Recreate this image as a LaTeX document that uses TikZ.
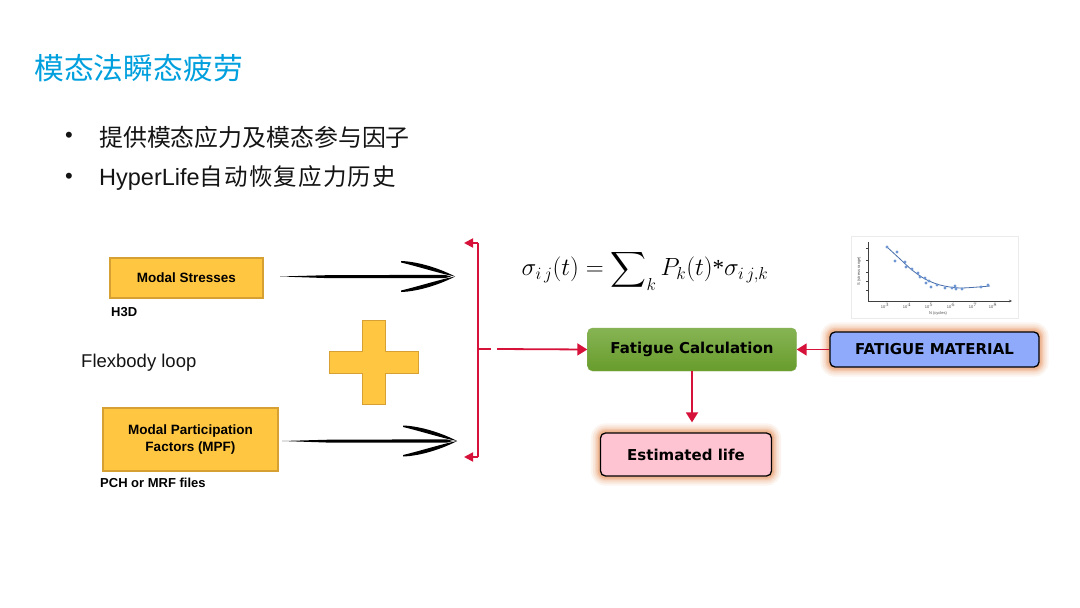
\documentclass[tikz,border=0pt]{standalone}
\usepackage{amsmath}
\usepackage{fontspec}
\setmainfont{Liberation Sans}
\newfontfamily\cjk{Noto Sans CJK SC}
\newfontfamily\dvs{DejaVu Sans}
\newfontfamily\tnr{Liberation Serif}
\usetikzlibrary{arrows.meta}
\pgfdeclarelayer{background}
\pgfsetlayers{background,main}
\definecolor{titleblue}{RGB}{0,160,222}
\definecolor{boxyellow}{RGB}{255,198,66}
\definecolor{boxborder}{RGB}{214,160,50}
\definecolor{redline}{RGB}{214,18,58}
\definecolor{fmblue}{RGB}{143,170,250}
\definecolor{elpink}{RGB}{255,196,210}
\definecolor{glowc}{RGB}{226,125,60}
\definecolor{greentop}{RGB}{134,180,84}
\definecolor{greenbot}{RGB}{104,156,44}
\definecolor{curveblue}{RGB}{70,110,170}
\definecolor{dotblue}{RGB}{110,150,210}
\definecolor{textdark}{RGB}{20,20,20}
\tikzset{
  plain/.style={inner sep=0pt, text=textdark},
  ybox/.style={draw=boxborder, line width=1.2pt, fill=boxyellow, inner sep=0pt, align=center,
    font=\bfseries\fontsize{13.5}{17}\selectfont},
  lbl/.style={inner sep=0pt, anchor=west, font=\bfseries\fontsize{13}{13}\selectfont},
  flowbox/.style={rounded corners=5pt, inner sep=0pt, font=\dvs\bfseries\fontsize{15}{15}\selectfont},
  redl/.style={draw=redline, line width=1.8pt},
  redarrow/.style={draw=redline, line width=1.8pt, -{Triangle[length=10pt,width=12pt]}},
  brush/.pic={
    \fill (-175,0) -- (-125,-1.4) -- (-10,-1.6) -- (-4,0) -- (-10,1.6) -- (-125,1.7) -- cycle;
    \fill (-54,-15.5) .. controls (-37,-15) and (-15,-8) .. (0,0) .. controls (-17,-3.5) and (-37,-10) .. (-54,-14) -- cycle;
    \fill (-54,15.5) .. controls (-37,15) and (-15,8) .. (0,0) .. controls (-17,3.5) and (-37,10) .. (-54,14) -- cycle;
  },
  tinytxt/.style={inner sep=0pt, font=\fontsize{4}{4}\selectfont, text=black!70}
}
\newcommand{\glowaround}[1]{%
  \begin{pgfonlayer}{background}
  \foreach \w/\o in {18/0.08,14/0.1,10/0.13,7/0.17,4/0.25}{%
    \draw[glowc, line width=\w pt, opacity=\o, rounded corners=6pt] (#1.south west) rectangle (#1.north east);}
  \end{pgfonlayer}}
\begin{document}
\begin{tikzpicture}[x=1pt,y=-1pt]
\begin{pgfonlayer}{background}
\fill[white] (0,0) rectangle (1080,608);
\end{pgfonlayer}
\useasboundingbox (0,0) rectangle (1080,608);

% title and bullets
\node[inner sep=0pt, anchor=west, text=titleblue, font=\cjk\fontsize{29.8}{30}\selectfont] (title) at (34,68) {模态法瞬态疲劳};
\node[plain, font=\fontsize{22}{22}\selectfont] (d1) at (69,137) {•};
\node[plain, font=\fontsize{22}{22}\selectfont] (d2) at (69,178) {•};
\node[plain, anchor=west, font=\cjk\fontsize{23.9}{24}\selectfont] (b1) at (99,137) {提供模态应力及模态参与因子};
\node[plain, anchor=west] (b2) at (99,178) {\fontsize{23.5}{24}\selectfont HyperLife{\cjk\addfontfeature{LetterSpace=5}自动恢复应力历史}};

% left column
\node[ybox, minimum width=153pt, minimum height=40pt] (ms) at (186.5,278) {Modal Stresses};
\node[lbl] (h3d) at (111,312) {H3D};
\node[plain, anchor=west, font=\fontsize{18.5}{18.5}\selectfont] (flex) at (81,363) {Flexbody loop};
\node[ybox, minimum width=175pt, minimum height=63pt] (mpf) at (190.5,439.5) {Modal Participation\\Factors (MPF)};
\node[lbl] (pch) at (100,483) {PCH or MRF files};

% plus sign
\filldraw[fill=boxyellow, draw=boxborder, line width=1pt]
  (362,320) -- (385,320) -- (385,351) -- (418,351) -- (418,373) -- (385,373) -- (385,404)
  -- (362,404) -- (362,373) -- (329,373) -- (329,351) -- (362,351) -- cycle;

% brush arrows
\coordinate (t1) at (455,276.5);
\coordinate (t2) at (457,441);
\pic at (t1) {brush};
\pic at (t2) {brush};

% red bracket
\coordinate (brT) at (478,243);
\coordinate (brB) at (478,457);
\coordinate (brM) at (478,349);
\coordinate (brTt) at (464,243);
\coordinate (brBt) at (464,457);
\coordinate (brM1) at (491,349);
\coordinate (brM2) at (497,349);
\draw[redl] (brT) -- (brB);
\draw[draw=redline, line width=1.8pt, -{Triangle[length=9pt,width=9pt]}] (brT) -- (brTt);
\draw[draw=redline, line width=1.8pt, -{Triangle[length=9pt,width=9pt]}] (brB) -- (brBt);
\draw[redl] (brM) -- (brM1);

% formula
\node[inner sep=0pt, font=\fontsize{23}{23}\selectfont] (eq) at (645,270) {$\sigma_{i\,j}(t)=\displaystyle\sum\nolimits_k P_k(t)\text{\tnr *}\sigma_{i\,j,k}$};

% flow boxes
\node[flowbox, top color=greentop, bottom color=greenbot, draw=greenbot!80!white, line width=0.4pt,
      minimum width=209pt, minimum height=43pt] (fc) at (692,349.5) {Fatigue Calculation};
\node[flowbox, fill=fmblue, draw=black, line width=1.3pt, minimum width=209pt, minimum height=35pt] (fm) at (934.5,349.5) {FATIGUE MATERIAL};
\node[flowbox, fill=elpink, draw=black, line width=1.3pt, minimum width=171pt, minimum height=43pt] (el) at (686,454.5) {Estimated life};
\glowaround{fm}
\glowaround{el}

\draw[redarrow] (brM2) -- (fc.west);
\draw[redarrow] (fm.west) -- (fc.east);
\draw[redarrow, shorten >=10pt] (fc.south) -- (fc.south |- el.north);

% S-N chart
\draw[black!8, fill=white] (851,236) rectangle (1018,318);
\draw[black!75, line width=0.6pt] (868,242) -- (868,301);
\draw[black!75, line width=0.6pt, -{Stealth[length=3pt,width=2.5pt]}] (868,301) -- (1012,301);
\foreach \yy in {248,260,272,281,290}{\draw[black!75, line width=0.4pt] (866,\yy) -- (868,\yy);}
\foreach \xx/\ee in {885/3,907/4,929/5,951/6,973/7,993/8}{\node[tinytxt] at (\xx,305.5) {10$^{\ee}$};}
\node[tinytxt] (nlab) at (938,313) {N (cycles)};
\node[tinytxt, rotate=90] (slab) at (859,271) {S (stress range)};
\draw[curveblue, line width=0.8pt] plot[smooth] coordinates {(887,247) (900,259) (912,270) (925,279) (940,285) (960,288) (990,286)};
\foreach \px/\py in {887/247,897/252,895/261,905/262,906/267,912/269,918/273,920/277,925/278,926/283,929/281,937/285,931/287,945/288,952/288,955/286,956/289,962/289,981/287,988/285}{
  \fill[dotblue] (\px,\py) circle (1.6pt);}
\end{tikzpicture}
\end{document}
